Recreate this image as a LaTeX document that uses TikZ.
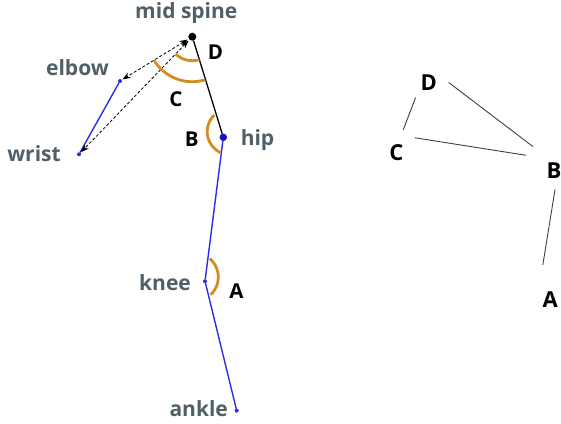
\documentclass[tikz,border=0pt]{standalone}
\usepackage{fontspec}
\setmainfont{Open Sans}
\usetikzlibrary{arrows.meta}
\definecolor{lblc}{RGB}{80,96,104}
\definecolor{arcc}{RGB}{212,140,30}
\definecolor{bone}{RGB}{45,45,230}
\definecolor{hipc}{RGB}{20,20,190}
\begin{document}
\begin{tikzpicture}[x=1pt,y=1pt,
  joint/.style={circle,inner sep=0pt,outer sep=0pt,fill=bone,minimum size=4pt},
  lbl/.style={font=\fontsize{21}{23}\selectfont\bfseries, text=lblc, anchor=base, inner sep=0pt},
  angl/.style={font=\fontsize{20.5}{22}\selectfont\bfseries, anchor=base, inner sep=0pt},
  bonel/.style={bone, line width=1.4pt},
  spinel/.style={black, line width=1.3pt},
  arcl/.style={arcc, line width=2.8pt},
  dasharr/.style={dash pattern=on 3pt off 2pt, line width=0.8pt, {Stealth[length=8pt,width=6pt]}-{Stealth[length=8pt,width=6pt]}},
  gl/.style={circle, inner sep=0pt, outer sep=0pt, font=\fontsize{22}{24}\selectfont\bfseries},
  gline/.style={line width=0.9pt, black!75}
]
\useasboundingbox (0,0) rectangle (561,423);
% joints
\node[circle,fill=black,inner sep=0pt,outer sep=0pt,minimum size=8pt] (ms) at (192.3,386.3) {};
\node[circle,fill=hipc,inner sep=0pt,outer sep=0pt,minimum size=7.5pt] (hip) at (223.3,285.7) {};
\node[joint] (elbow) at (120,342) {};
\node[joint] (wrist) at (79,268.7) {};
\node[joint] (knee) at (205,141.8) {};
\node[joint] (ankle) at (236.7,12.3) {};
% bones
\draw[bonel] (elbow) -- (wrist);
\draw[bonel] (hip) -- (knee);
\draw[bonel] (knee) -- (ankle);
\draw[spinel] (ms) -- (hip);
% dashed vectors
\draw[dasharr, shorten <=1.5pt, shorten >=1pt] (ms) -- (elbow);
\draw[dasharr, shorten <=1.5pt, shorten >=1pt] (ms) -- (wrist);
% angle arcs
\draw[arcl] ([shift={(-134:24pt)}]ms.center) arc[start angle=-134, end angle=-73, radius=24pt];
\draw[arcl] ([shift={(-148.5:45pt)}]ms.center) arc[start angle=-148.5, end angle=-73.2, radius=45pt];
\draw[arcl] ([shift={(134:23.2pt)}]230.4,291.3) arc[start angle=134, end angle=245, radius=23.2pt];
\draw[arcl] ([shift={(-46.5:24.3pt)}]194,145.9) arc[start angle=-46.5, end angle=49.6, radius=24.3pt];
% labels
\node[lbl] (lms) at (186.3,404.7) {mid spine};
\node[lbl] (lelbow) at (77.5,347.5) {elbow};
\node[lbl] (lwrist) at (34,261) {wrist};
\node[lbl] (lhip) at (257.5,277) {hip};
\node[lbl] (lknee) at (165,133) {knee};
\node[lbl] (lankle) at (198.7,6.3) {ankle};
\node[angl] (aD) at (215.5,363.5) {D};
\node[angl] (aC) at (176,316.5) {C};
\node[angl] (aB) at (191.7,276.3) {B};
\node[angl] (aA) at (236.5,124.5) {A};
% right graph
\node[gl, minimum size=40pt] (gD) at (428.7,340.5) {D};
\node[gl, minimum size=47pt] (gC) at (396.3,270.5) {C};
\node[gl, minimum size=64pt] (gB) at (554,252.2) {B};
\node[gl, minimum size=72pt] (gA) at (550.3,123) {A};
\draw[gline] (gD.-131) -- (gC.73);
\draw[gline] (gD.-0.6) -- (gB.131);
\draw[gline] (gC.39) -- (gB.151);
\draw[gline, shorten <=-13.5pt] (gB.-92) -- (gA.102);
\end{tikzpicture}
\end{document}
